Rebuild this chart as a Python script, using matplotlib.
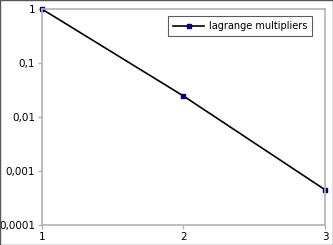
import matplotlib
matplotlib.use("Agg")
import matplotlib.pyplot as plt
from matplotlib.ticker import FixedLocator, FixedFormatter, NullLocator

x_vals = [1, 2, 3]
y_vals = [1.0, 0.0245, 0.00045]
series_name = "lagrange multipliers"
y_ticks = [1, 0.1, 0.01, 0.001, 0.0001]
y_tick_labels = ["1", "0,1", "0,01", "0,001", "0,0001"]
x_ticks = [1, 2, 3]
x_tick_labels = ["1", "2", "3"]

fig = plt.figure(figsize=(3.33, 2.45), dpi=100)
fig.patches.append(plt.Rectangle((0.0015, 0.002), 0.997, 0.996, transform=fig.transFigure,
                                 fill=False, edgecolor="#555555", linewidth=1.0))
ax = fig.add_axes([0.126, 0.0816, 0.85, 0.8814])
ax.plot(x_vals, y_vals, color="black", linewidth=1.2, marker="s", markersize=3.2,
        markerfacecolor="#000080", markeredgecolor="#000080", label=series_name, clip_on=False)
ax.set_yscale("log")
ax.set_ylim(0.0001, 1)
ax.set_xlim(1, 3)
ax.yaxis.set_major_locator(FixedLocator(y_ticks))
ax.yaxis.set_major_formatter(FixedFormatter(y_tick_labels))
ax.yaxis.set_minor_locator(NullLocator())
ax.xaxis.set_major_locator(FixedLocator(x_ticks))
ax.xaxis.set_major_formatter(FixedFormatter(x_tick_labels))
for s in ax.spines.values():
    s.set_color("#b3b3b3")
    s.set_linewidth(1.2)
ax.tick_params(axis="both", colors="#b3b3b3", labelcolor="black", labelsize=7.5,
               length=3, width=1, pad=2)
leg = ax.legend(loc="upper right", bbox_to_anchor=(0.965, 0.98), fontsize=7, frameon=True,
                fancybox=False, borderpad=0.5, handlelength=3.2, handletextpad=0.5,
                borderaxespad=0.3)
leg.get_frame().set_edgecolor("#333333")
leg.get_frame().set_linewidth(0.8)
fig.savefig("out.png", dpi=100)
